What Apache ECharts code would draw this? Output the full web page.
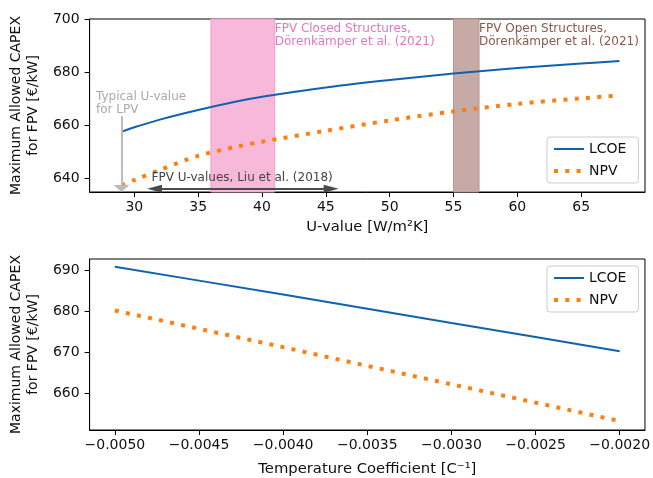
<!DOCTYPE html>
<html>
<head>
<meta charset="utf-8">
<script src="https://cdn.jsdelivr.net/npm/echarts@6/dist/echarts.min.js"></script>
<style>html,body{margin:0;padding:0;background:#fff;}#c{width:653px;height:478px;}</style>
</head>
<body>
<div id="c"></div>
<script>
// ---- data ----
var uValues = [29, 30, 32, 35, 38, 40, 45, 50, 55, 60, 65, 68];
var lcoeU   = [657.6, 659.3, 662.2, 665.8, 669.0, 670.8, 674.3, 677.1, 679.5, 681.6, 683.3, 684.2];
var npvU    = [637.5, 639.5, 643.3, 648.6, 652.0, 653.9, 658.0, 661.9, 665.3, 668.1, 670.2, 671.2];

var tempCoeff = [-0.005, -0.0045, -0.004, -0.0035, -0.003, -0.0025, -0.002];
var lcoeT     = [690.9, 687.5, 684.1, 680.6, 677.1, 673.7, 670.2];
var npvT      = [680.2, 675.7, 671.2, 666.6, 662.1, 657.6, 653.1];

var uTicks = [30, 35, 40, 45, 50, 55, 60, 65];
var yTicksTop = [640, 660, 680, 700];
var tTicks = [-0.005, -0.0045, -0.004, -0.0035, -0.003, -0.0025, -0.002];
var yTicksBottom = [660, 670, 680, 690];

var closedSpan = [36, 41];
var openSpan = [55, 57];
var liuSpan = [31, 46];
var lpvU = 29;

var FONT = 'DejaVu Sans';
var BLUE = '#1062b0';
var ORANGE = '#ff7f0e';
var DOTS = [4, 7.3];

function pairs(xs, ys) { return xs.map(function (x, i) { return [x, ys[i]]; }); }

function axisCommon(ticks, fmt, margin) {
  return {
    axisLine: { show: true, lineStyle: { color: '#000', width: 1 } },
    axisTick: { show: true, length: 5, inside: false, customValues: ticks, lineStyle: { color: '#000' } },
    axisLabel: { customValues: ticks, fontFamily: FONT, fontSize: 14, color: '#111', formatter: fmt, margin: margin },
    splitLine: { show: false }
  };
}

var chart = echarts.init(document.getElementById('c'), null, { renderer: 'canvas' });

var yName = 'Maximum Allowed CAPEX\nfor FPV [€/kW]';
var nameStyle = { fontFamily: FONT, fontSize: 14, color: '#111', lineHeight: 17 };
var xNameStyle = { fontFamily: FONT, fontSize: 14.8, color: '#111' };

function legendCfg(top) {
  return {
    data: [
      { name: 'LCOE', itemStyle: { opacity: 0 }, lineStyle: { color: BLUE, width: 2 } },
      { name: 'NPV', itemStyle: { opacity: 0 }, lineStyle: { color: ORANGE, width: 4, type: DOTS, cap: 'butt' } }
    ],
    orient: 'vertical', left: 547, top: top,
    itemWidth: 30, itemHeight: 14, itemGap: 8, padding: [5, 12, 5, 5],
    borderColor: '#ccc', borderWidth: 1, borderRadius: 3, backgroundColor: 'rgba(255,255,255,0.8)',
    textStyle: { fontFamily: FONT, fontSize: 14, color: '#111' }, selectedMode: false
  };
}

// arrow head half-lengths expressed in axis units (heads are centred on the end coordinate)
var liuHalfHead = 0.58;
var lpvHalfHead = 1.3;

var option = {
  animation: false,
  backgroundColor: '#fff',
  textStyle: { fontFamily: FONT },
  grid: [
    { left: 88, right: 8, top: 19, height: 173, show: true, borderColor: '#000', borderWidth: 1, containLabel: false },
    { left: 88, right: 8, top: 259, height: 172.5, show: true, borderColor: '#000', borderWidth: 1, containLabel: false }
  ],
  xAxis: [
    Object.assign({
      type: 'value', gridIndex: 0, min: 26.5, max: 70,
      name: 'U-value [W/m²K]', nameLocation: 'middle', nameGap: 28, nameTextStyle: xNameStyle
    }, axisCommon(uTicks, function (v) { return String(v); }, 8)),
    Object.assign({
      type: 'value', gridIndex: 1, min: -0.00515, max: -0.00185,
      name: 'Temperature Coefficient [C⁻¹]', nameLocation: 'middle', nameGap: 32, nameTextStyle: xNameStyle
    }, axisCommon(tTicks, function (v) { return '\u2212' + Math.abs(v).toFixed(4); }, 8))
  ],
  yAxis: [
    Object.assign({
      type: 'value', gridIndex: 0, min: 635, max: 700,
      name: yName, nameLocation: 'middle', nameRotate: 90, nameGap: 39, nameTextStyle: nameStyle
    }, axisCommon(yTicksTop, function (v) { return String(v); }, 10)),
    Object.assign({
      type: 'value', gridIndex: 1, min: 650.9, max: 692.8,
      name: yName, nameLocation: 'middle', nameRotate: 90, nameGap: 39, nameTextStyle: nameStyle
    }, axisCommon(yTicksBottom, function (v) { return String(v); }, 10))
  ],
  legend: [legendCfg(137), legendCfg(266)],
  series: [
    {
      name: 'LCOE', type: 'line', xAxisIndex: 0, yAxisIndex: 0,
      data: pairs(uValues, lcoeU), smooth: 0.3, symbol: 'none', showSymbol: false,
      lineStyle: { color: BLUE, width: 2 }, itemStyle: { color: BLUE }, z: 3,
      markArea: {
        silent: true,
        data: [
          [{ xAxis: closedSpan[0], itemStyle: { color: '#f8b8d9', borderColor: '#e9a0c8', borderWidth: 1 } }, { xAxis: closedSpan[1] }],
          [{ xAxis: openSpan[0], itemStyle: { color: '#c5aaa5', borderColor: '#b8968f', borderWidth: 1 } }, { xAxis: openSpan[1] }]
        ]
      },
      markLine: {
        silent: true, animation: false,
        label: { show: false },
        symbol: ['none', 'triangle'], symbolSize: [16, 7],
        lineStyle: { color: '#bbbbbb', width: 2, type: 'solid' },
        data: [[{ coord: [lpvU, 663.5] }, { coord: [lpvU, 635 + lpvHalfHead] }]]
      },
      markPoint: {
        silent: true, symbol: 'circle', symbolSize: 0,
        label: { show: true, position: [0, 0], align: 'left', verticalAlign: 'top', fontFamily: FONT, fontSize: 12, lineHeight: 13 },
        data: [
          { coord: [closedSpan[1], 698.6], label: { formatter: 'FPV Closed Structures,\nDörenkämper et al. (2021)', color: '#e377c2' } },
          { coord: [openSpan[1], 698.6], label: { formatter: 'FPV Open Structures,\nDörenkämper et al. (2021)', color: '#8c564b' } },
          { coord: [27.0, 673.2], label: { formatter: 'Typical U-value\nfor LPV', color: '#aaaaaa' } }
        ]
      }
    },
    {
      name: 'NPV', type: 'line', xAxisIndex: 0, yAxisIndex: 0,
      data: pairs(uValues, npvU), smooth: 0.3, symbol: 'none', showSymbol: false,
      lineStyle: { color: ORANGE, width: 4, type: DOTS, cap: 'butt' }, itemStyle: { color: ORANGE }, z: 3,
      markLine: {
        silent: true, animation: false,
        label: { show: false },
        symbol: ['triangle', 'triangle'], symbolSize: [8, 15],
        lineStyle: { color: '#4a4a4a', width: 2, type: 'solid' },
        data: [[{ coord: [liuSpan[0] + liuHalfHead, 636.2] }, { coord: [liuSpan[1] - liuHalfHead, 636.2] }]]
      },
      markPoint: {
        silent: true, symbol: 'circle', symbolSize: 0,
        label: { show: true, position: [0, 0], align: 'left', verticalAlign: 'middle', fontFamily: FONT, fontSize: 12, color: '#444' },
        data: [
          { coord: [31.35, 640.3], label: { formatter: 'FPV U-values, Liu et al. (2018)' } }
        ]
      }
    },
    {
      name: 'LCOE', type: 'line', xAxisIndex: 1, yAxisIndex: 1,
      data: pairs(tempCoeff, lcoeT), symbol: 'none', showSymbol: false,
      lineStyle: { color: BLUE, width: 2 }, itemStyle: { color: BLUE }
    },
    {
      name: 'NPV', type: 'line', xAxisIndex: 1, yAxisIndex: 1,
      data: pairs(tempCoeff, npvT), symbol: 'none', showSymbol: false,
      lineStyle: { color: ORANGE, width: 4, type: DOTS, cap: 'butt' }, itemStyle: { color: ORANGE }
    }
  ]
};
chart.setOption(option);
</script>
</body>
</html>
